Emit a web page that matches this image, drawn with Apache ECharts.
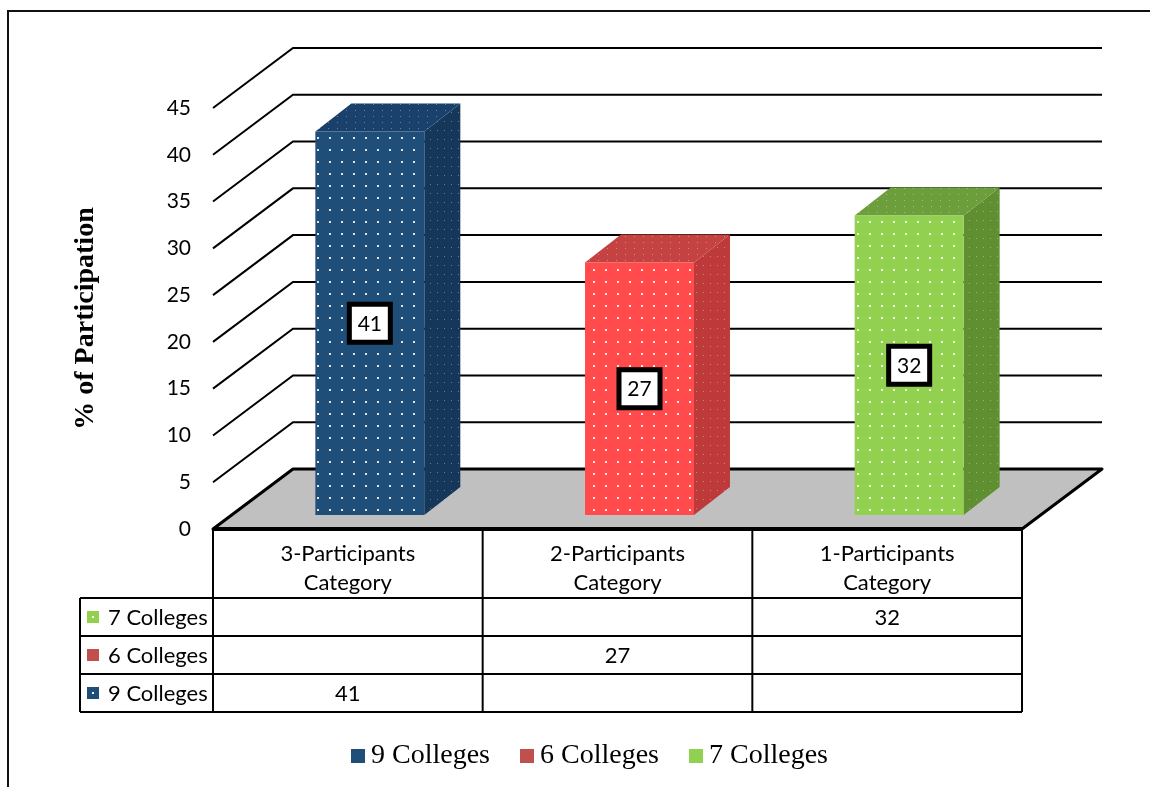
<!DOCTYPE html>
<html>
<head>
<meta charset="utf-8">
<script src="https://cdn.jsdelivr.net/npm/echarts@6/dist/echarts.min.js"></script>
<style>
  html, body { margin: 0; padding: 0; background: #fff; }
  #chart { width: 1150px; height: 787px; }
</style>
</head>
<body>
<div id="chart"></div>
<script>
// Categories (table header) and per-series values
const categories = ['3-Participants\nCategory', '2-Participants\nCategory', '1-Participants\nCategory'];
const seriesNames = ['9 Colleges', '6 Colleges', '7 Colleges'];
const nineColleges = [41, null, null];
const sixColleges = [null, 27, null];
const sevenColleges = [null, null, 32];
const yTicks = [0, 5, 10, 15, 20, 25, 30, 35, 40, 45];

// Oblique 3D projection settings
const WALL_DX = 80, WALL_DY = -60;      // depth of floor / back wall
const BAR_SHIFT_X = 22, BAR_SHIFT_Y = -14; // bar front plane inside the floor
const BAR_W_FRAC = 0.404;               // bar width as a fraction of the band
const BAR_DX = 36, BAR_DY = -28;        // bar depth

const FONT_SANS = 'Lato, "Liberation Sans", sans-serif';
const FONT_SERIF = '"Liberation Serif", "Times New Roman", serif';

function dotPattern(bg, dot, w, h, size) {
  const c = document.createElement('canvas');
  c.width = w; c.height = h;
  const g = c.getContext('2d');
  g.fillStyle = bg;
  g.fillRect(0, 0, w, h);
  g.fillStyle = dot;
  g.fillRect(Math.floor(w / 2 - size / 2), Math.floor(h / 2 - size / 2), size, size);
  return { image: c, repeat: 'repeat' };
}

const palette = [
  { legend: '#1F4E79', front: '#1F4E79', side: '#15375A', top: '#1A416B' },
  { legend: '#C0504D', front: '#FF4B4B', side: '#BE3A3A', top: '#C44242' },
  { legend: '#92D050', front: '#92D050', side: '#5F8F31', top: '#6C9E3B' }
];
const fills = palette.map(p => ({
  front: dotPattern(p.front, 'rgba(255,255,255,0.85)', 12, 12, 2),
  side: dotPattern(p.side, 'rgba(255,255,255,0.35)', 7, 9, 1),
  top: dotPattern(p.top, 'rgba(255,255,255,0.35)', 9, 6, 1)
}));

const seriesValues = [nineColleges, sixColleges, sevenColleges];

function barRenderer(k) {
  const f = fills[k];
  return function (params, api) {
    const v = api.value(1);
    if (isNaN(v)) return null;
    const cat = api.value(0);
    const base = api.coord([cat, 0]);
    const top = api.coord([cat, v]);
    const band = api.size([1, 0])[0];
    const w = band * BAR_W_FRAC;
    const cx = base[0] + BAR_SHIFT_X;
    const x0 = cx - w / 2, x1 = cx + w / 2;
    const yb = base[1] + BAR_SHIFT_Y, yt = top[1] + BAR_SHIFT_Y;
    const cy = (yb + yt) / 2;
    return {
      type: 'group',
      children: [
        { type: 'polygon', shape: { points: [[x1, yb], [x1 + BAR_DX, yb + BAR_DY], [x1 + BAR_DX, yt + BAR_DY], [x1, yt]] },
          style: { fill: f.side } },
        { type: 'polygon', shape: { points: [[x0, yt], [x1, yt], [x1 + BAR_DX, yt + BAR_DY], [x0 + BAR_DX, yt + BAR_DY]] },
          style: { fill: f.top } },
        { type: 'rect', shape: { x: x0, y: yt, width: w, height: yb - yt }, style: { fill: f.front } },
        { type: 'rect', shape: { x: cx - 20.5, y: cy - 19, width: 41, height: 38 },
          style: { fill: '#fff', stroke: '#000', lineWidth: 5 } },
        { type: 'text', x: cx, y: cy + 1,
          style: { text: String(v), font: '21px ' + FONT_SANS, fill: '#000', align: 'center', verticalAlign: 'middle' } }
      ]
    };
  };
}

// Floor, back wall grid and the data table under the plot
function renderFrame(params, api) {
  const cs = params.coordSys;
  const left = cs.x, right = cs.x + cs.width;
  const band = api.size([1, 0])[0];
  const y0 = api.coord([0, yTicks[0]])[1];
  const ch = [];

  yTicks.slice(1).forEach(t => {
    const y = api.coord([0, t])[1];
    ch.push({ type: 'polyline', shape: { points: [[left, y], [left + WALL_DX, y + WALL_DY], [right + WALL_DX, y + WALL_DY]] },
      style: { stroke: '#000', lineWidth: 2, fill: null } });
  });

  ch.push({ type: 'polygon',
    shape: { points: [[left, y0], [left + WALL_DX, y0 + WALL_DY], [right + WALL_DX, y0 + WALL_DY], [right, y0]] },
    style: { fill: '#C0C0C0', stroke: '#000', lineWidth: 3, lineJoin: 'round' } });
  ch.push({ type: 'line', shape: { x1: left, y1: y0, x2: right, y2: y0 },
    style: { stroke: '#000', lineWidth: 4 } });

  // table
  const headH = 69, rowH = 38, keyLeft = 80;
  const rowsTop = y0 + headH;
  const tableBottom = rowsTop + rowH * seriesNames.length;
  const lineStyle = { stroke: '#000', lineWidth: 2 };
  for (let i = 0; i <= categories.length; i++) {
    const x = left + i * band;
    ch.push({ type: 'line', shape: { x1: x, y1: y0, x2: x, y2: tableBottom }, style: lineStyle });
  }
  ch.push({ type: 'line', shape: { x1: keyLeft, y1: rowsTop, x2: keyLeft, y2: tableBottom }, style: lineStyle });
  for (let r = 0; r <= seriesNames.length; r++) {
    const y = rowsTop + r * rowH;
    ch.push({ type: 'line', shape: { x1: keyLeft, y1: y, x2: right, y2: y }, style: lineStyle });
  }
  categories.forEach((c, i) => {
    ch.push({ type: 'text', x: left + (i + 0.5) * band, y: y0 + headH / 2 + 5,
      style: { text: c, font: '22px ' + FONT_SANS, lineHeight: 29, fill: '#000', align: 'center', verticalAlign: 'middle' } });
  });
  // rows listed bottom-up in series order
  seriesNames.forEach((name, k) => {
    const r = seriesNames.length - 1 - k;
    const cy = rowsTop + r * rowH + rowH / 2;
    ch.push({ type: 'rect', shape: { x: 87, y: cy - 6, width: 12, height: 12 }, style: { fill: palette[k].legend } });
    if (k !== 1) ch.push({ type: 'rect', shape: { x: 92, y: cy - 1, width: 2, height: 2 }, style: { fill: '#fff' } });
    ch.push({ type: 'text', x: 108, y: cy + 1,
      style: { text: name, font: '22px ' + FONT_SANS, fill: '#000', align: 'left', verticalAlign: 'middle' } });
    seriesValues[k].forEach((v, i) => {
      if (v == null) return;
      ch.push({ type: 'text', x: left + (i + 0.5) * band, y: cy + 1,
        style: { text: String(v), font: '22px ' + FONT_SANS, fill: '#000', align: 'center', verticalAlign: 'middle' } });
    });
  });

  return { type: 'group', children: ch };
}

const chart = echarts.init(document.getElementById('chart'), null, { renderer: 'canvas' });

const option = {
  animation: false,
  backgroundColor: '#fff',
  graphic: [{
    type: 'rect', silent: true, z: -10,
    shape: { x: 8, y: 11, width: 1200, height: 820 },
    style: { fill: null, stroke: '#111', lineWidth: 2 }
  }],
  grid: { left: 213, top: 108, width: 809, height: 421, containLabel: false },
  xAxis: {
    type: 'category', data: categories,
    axisLine: { show: false }, axisTick: { show: false }, axisLabel: { show: false }, splitLine: { show: false }
  },
  yAxis: {
    type: 'value', min: yTicks[0], max: yTicks[yTicks.length - 1], interval: yTicks[1] - yTicks[0],
    name: '% of Participation', nameLocation: 'middle', nameRotate: 90, nameGap: 113,
    nameTextStyle: { fontFamily: FONT_SERIF, fontWeight: 'bold', fontSize: 28, color: '#000' },
    axisLine: { show: false }, axisTick: { show: false }, splitLine: { show: false },
    axisLabel: { fontFamily: FONT_SANS, fontSize: 21, color: '#000', margin: 22 }
  },
  legend: {
    left: 351, top: 742, padding: 0, itemWidth: 14, itemHeight: 14, itemGap: 30,
    icon: 'rect',
    data: seriesNames,
    textStyle: { fontFamily: FONT_SERIF, fontSize: 28, color: '#000', padding: [0, 0, 0, 1] }
  },
  series: [
    { type: 'custom', name: '__frame', renderItem: renderFrame, data: [[0, 0]], z: 1, silent: true, tooltip: { show: false } }
  ].concat(seriesNames.map((name, k) => ({
    type: 'custom', name: name, z: 2,
    renderItem: barRenderer(k),
    itemStyle: { color: palette[k].legend },
    data: seriesValues[k].map((v, i) => [i, v == null ? '-' : v])
  })))
};

chart.setOption(option);
</script>
</body>
</html>
